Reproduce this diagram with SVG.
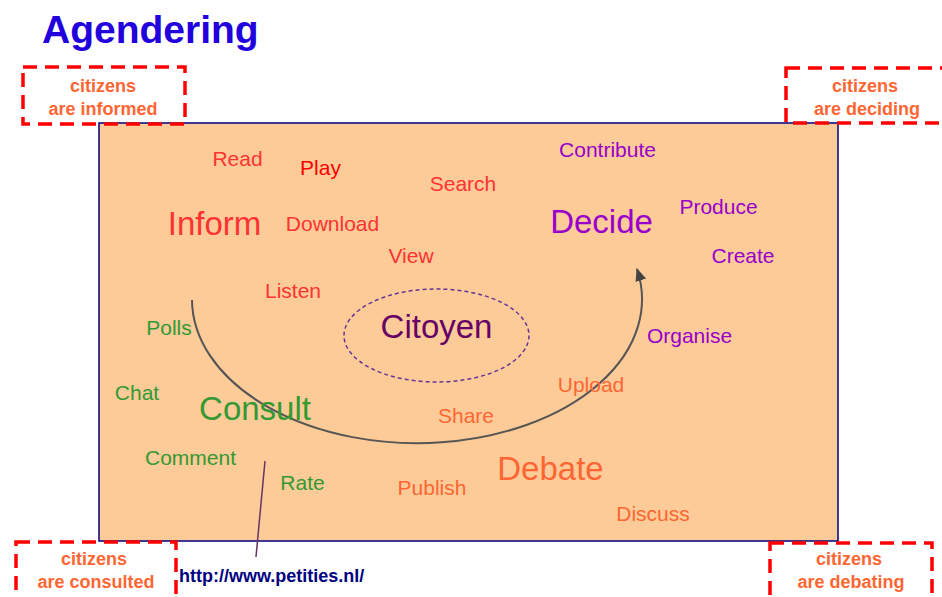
<svg xmlns="http://www.w3.org/2000/svg" width="942" height="597" viewBox="0 0 942 597">
<defs>
<style>
text{font-family:"Liberation Sans",Arial,sans-serif;text-anchor:middle}
.title{font-size:39px;font-weight:bold;fill:#2200DD;text-anchor:start}
.box{fill:none;stroke:#FF0000;stroke-width:3.5;stroke-dasharray:14 8}
.boxt{font-size:18px;font-weight:bold;fill:#FF6633}
.s{font-size:21px}
.l{font-size:33px}
.red{fill:#FF3333}
.play{fill:#FF0000}
.pur{fill:#9900CC}
.grn{fill:#339933}
.org{fill:#FF6633}
.cit{fill:#660066}
.url{font-size:18px;font-weight:bold;fill:#000080;text-anchor:start}
</style>
<marker id="ah" markerUnits="userSpaceOnUse" markerWidth="13" markerHeight="11" refX="12" refY="5.5" orient="auto">
<path d="M0,0 L13,5.5 L0,11 z" fill="#444444"/>
</marker>
</defs>
<rect width="942" height="597" fill="#FFFFFF"/>
<text class="title" x="42" y="43">Agendering</text>
<rect id="panel" x="99" y="123" width="739" height="418" fill="#FDCB98" stroke="#000080" stroke-width="1.5"/>
<g id="box-informed"><rect class="box" x="23" y="67" width="162" height="57"/><text class="boxt" x="103" y="92">citizens</text><text class="boxt" x="103" y="115">are informed</text></g>
<g id="box-deciding"><rect class="box" x="786" y="68" width="170" height="55"/><text class="boxt" x="865" y="92">citizens</text><text class="boxt" x="867" y="115">are deciding</text></g>
<g id="box-consulted"><rect class="box" x="16" y="542" width="160" height="62"/><text class="boxt" x="94" y="565">citizens</text><text class="boxt" x="96" y="588">are consulted</text></g>
<g id="box-debating"><rect class="box" x="770" y="543" width="162" height="62"/><text class="boxt" x="849" y="565">citizens</text><text class="boxt" x="851" y="588">are debating</text></g>
<g id="connectors">
<path d="M192,300 A225,144 0 1 0 637,269" fill="none" stroke="#555555" stroke-width="2" marker-end="url(#ah)"/>
<path d="M265,461 L256,557" fill="none" stroke="#663366" stroke-width="1.5"/>
</g>
<g id="citoyen"><ellipse cx="436.5" cy="335.5" rx="92.5" ry="46.5" fill="none" stroke="#663399" stroke-width="1.5" stroke-dasharray="4 3"/><text class="l cit" x="436.5" y="338">Citoyen</text></g>
<g id="inform"><text class="l red" x="214.5" y="235">Inform</text></g>
<g id="read"><text class="s red" x="237.5" y="166">Read</text></g>
<g id="play"><text class="s play" x="320.5" y="175">Play</text></g>
<g id="search"><text class="s red" x="463" y="191">Search</text></g>
<g id="download"><text class="s red" x="332.5" y="231">Download</text></g>
<g id="view"><text class="s red" x="411" y="263">View</text></g>
<g id="listen"><text class="s red" x="293" y="298">Listen</text></g>
<g id="decide"><text class="l pur" x="601.5" y="233">Decide</text></g>
<g id="contribute"><text class="s pur" x="607.5" y="157">Contribute</text></g>
<g id="produce"><text class="s pur" x="718.5" y="214">Produce</text></g>
<g id="create"><text class="s pur" x="743" y="263">Create</text></g>
<g id="organise"><text class="s pur" x="689.5" y="343">Organise</text></g>
<g id="consult"><text class="l grn" x="255" y="420">Consult</text></g>
<g id="polls"><text class="s grn" x="169" y="335">Polls</text></g>
<g id="chat"><text class="s grn" x="137" y="400">Chat</text></g>
<g id="comment"><text class="s grn" x="190.5" y="465">Comment</text></g>
<g id="rate"><text class="s grn" x="302.5" y="490">Rate</text></g>
<g id="debate"><text class="l org" x="550.5" y="480">Debate</text></g>
<g id="upload"><text class="s org" x="591" y="392">Upload</text></g>
<g id="share"><text class="s org" x="466" y="423">Share</text></g>
<g id="publish"><text class="s org" x="432" y="495">Publish</text></g>
<g id="discuss"><text class="s org" x="653" y="521">Discuss</text></g>
<g id="url"><text class="url" x="179" y="582">http://www.petities.nl/</text></g>
</svg>
